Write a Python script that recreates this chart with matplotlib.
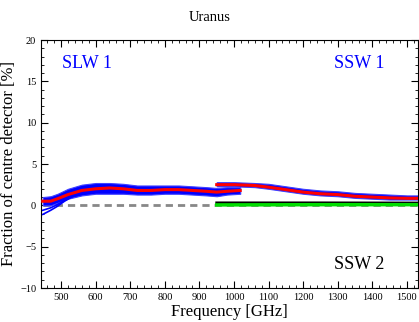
import numpy as np
import matplotlib.pyplot as plt
from matplotlib.ticker import MultipleLocator

# SLW 1 (centre-detector fraction, %)
slw_freq = [447, 470, 490, 520, 560, 600, 640, 680, 720, 760, 800, 840, 880, 920, 950, 980, 1018]
slw_mean = [0.5, 0.5, 0.8, 1.3, 1.8, 2.0, 2.1, 2.0, 1.8, 1.8, 1.9, 1.9, 1.8, 1.7, 1.6, 1.7, 1.8]
slw_hi = [1.0, 1.1, 1.4, 2.0, 2.5, 2.7, 2.7, 2.6, 2.4, 2.4, 2.4, 2.4, 2.3, 2.2, 2.1, 2.2, 2.2]
slw_lo = [0.0, 0.0, 0.3, 0.8, 1.2, 1.4, 1.4, 1.4, 1.3, 1.3, 1.4, 1.4, 1.3, 1.2, 1.1, 1.3, 1.4]
# a few outlying SLW detectors at low frequency
slw_out_freq = [447, 470, 490, 510, 530]
slw_out1 = [-1.1, -0.6, -0.1, 0.5, 1.0]
slw_out2 = [-0.6, -0.3, 0.1, 0.6, 1.0]

# SSW 1
ssw_freq = [950, 1000, 1060, 1100, 1150, 1200, 1250, 1300, 1350, 1400, 1450, 1500, 1550]
ssw_mean = [2.5, 2.5, 2.4, 2.2, 1.9, 1.6, 1.4, 1.3, 1.1, 1.0, 0.9, 0.85, 0.85]
ssw_hi = [2.8, 2.8, 2.7, 2.6, 2.3, 2.0, 1.8, 1.7, 1.5, 1.4, 1.3, 1.2, 1.2]
ssw_lo = [2.3, 2.3, 2.2, 2.0, 1.7, 1.4, 1.2, 1.1, 0.9, 0.8, 0.7, 0.7, 0.7]

# SSW 2
ssw2_freq = [950, 1250, 1550]
ssw2_black = [0.3, 0.3, 0.28]
ssw2_green = [0.05, 0.08, 0.08]

zero_freq = [447, 1550]
zero_val = [0, 0]

plt.rcParams['font.family'] = ['Liberation Serif', 'DejaVu Serif']

fig = plt.figure(figsize=(4.19, 3.22), dpi=100)
ax = fig.add_axes([41 / 419, 1 - 288 / 322, 377 / 419, 248 / 322])

ax.plot(zero_freq, zero_val, color='#888888', lw=2, ls=(0, (2.6, 1.8)), zorder=1)

ax.fill_between(slw_freq, slw_lo, slw_hi, color='blue', lw=0.8, edgecolor='#4040ff', zorder=2)
ax.plot(slw_out_freq, slw_out1, color='blue', lw=1.2, zorder=2)
ax.plot(slw_out_freq, slw_out2, color='blue', lw=1.2, zorder=2)
ax.plot(slw_freq, slw_mean, color='red', lw=2.2, zorder=3)

ax.fill_between(ssw_freq, ssw_lo, ssw_hi, color='blue', lw=0.8, edgecolor='#4040ff', zorder=2)
ax.plot(ssw_freq, ssw_mean, color='red', lw=2.2, zorder=3)

ax.plot(ssw2_freq, ssw2_black, color='black', lw=2, zorder=3)
ax.plot(ssw2_freq, ssw2_green, color='#00dd00', lw=2.5, zorder=4)

ax.set_xlim(442, 1532)
ax.set_ylim(-10, 20)
ax.xaxis.set_major_locator(MultipleLocator(100))
ax.xaxis.set_minor_locator(MultipleLocator(20))
ax.yaxis.set_major_locator(MultipleLocator(5))
ax.yaxis.set_minor_locator(MultipleLocator(1))
ax.tick_params(which='both', direction='in', top=True, right=True, labelsize=7.5)
ax.tick_params(which='major', length=5)
ax.tick_params(which='minor', length=2.5)
ax.set_xticks(range(500, 1501, 100))

ax.text(0.122, 0.905, 'SLW 1', color='blue', fontsize=13, transform=ax.transAxes, ha='center', va='center')
ax.text(0.843, 0.905, 'SSW 1', color='blue', fontsize=13, transform=ax.transAxes, ha='center', va='center')
ax.text(0.843, 0.093, 'SSW 2', color='black', fontsize=13, transform=ax.transAxes, ha='center', va='center')

ax.set_xlabel('Frequency [GHz]', fontsize=12, labelpad=1.5)
ax.set_ylabel('Fraction of centre detector [%]', fontsize=12, labelpad=2)
fig.text(0.5, 0.945, 'Uranus', ha='center', va='center', fontsize=10.5)

fig.savefig('out.png', dpi=100)
